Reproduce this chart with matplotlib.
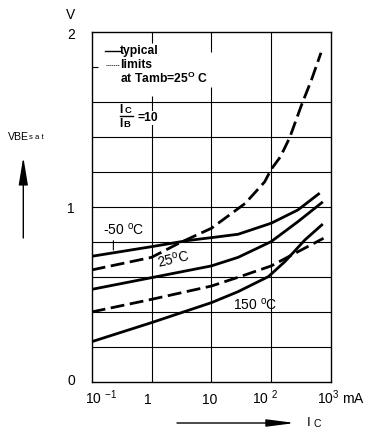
import matplotlib
matplotlib.use("Agg")
import matplotlib.pyplot as plt

plt.rcParams['font.family'] = ['Liberation Sans', 'DejaVu Sans']
plt.rcParams['mathtext.fontset'] = 'custom'
plt.rcParams['mathtext.rm'] = 'Liberation Sans'
plt.rcParams['mathtext.bf'] = 'Liberation Sans:bold'

# collector current (mA) and VBEsat (V)
ic_m50 = [0.1, 1, 4, 12, 28, 100, 280, 620]
vbe_m50 = [0.72, 0.775, 0.81, 0.83, 0.846, 0.909, 0.985, 1.076]

ic_25 = [0.1, 1, 10, 28, 100, 280, 700]
vbe_25 = [0.531, 0.598, 0.665, 0.714, 0.804, 0.918, 1.026]

ic_150 = [0.1, 1, 10, 28, 90, 170, 365, 700]
vbe_150 = [0.232, 0.341, 0.455, 0.518, 0.604, 0.69, 0.813, 0.899]

ic_upper = [0.1, 1, 3, 10, 37, 78, 100, 143, 205, 322, 470, 680]
vbe_upper = [0.642, 0.714, 0.798, 0.88, 1.023, 1.146, 1.217, 1.289, 1.40, 1.585, 1.727, 1.883]

ic_lower = [0.1, 1, 10, 28, 100, 280, 750]
vbe_lower = [0.402, 0.474, 0.55, 0.60, 0.665, 0.746, 0.823]

xtick_vals = [0.1, 1, 10, 100, 1000]
xtick_labels = ['10 $^{\\mathregular{-1}}$', '1', '10', '10 $^{2}$', '10$^{3}$ mA']
ytick_vals = [0, 1, 2]

fig = plt.figure(figsize=(3.72, 4.38), dpi=100)
ax = fig.add_axes([91.7 / 372, 1 - 382.3 / 438, 239.3 / 372, 350 / 438])
ax.set_xscale('log')
ax.set_xlim(0.1, 1000)
ax.set_ylim(0, 2)
ax.set_xticks([])
ax.set_yticks([])
ax.minorticks_off()
for s in ax.spines.values():
    s.set_linewidth(1.0)

# grid, with gaps where the notes sit
gk = dict(color='black', lw=0.8, zorder=1)
for v in [0.2, 0.4, 0.6, 0.8, 1.0, 1.2, 1.4, 1.6]:
    ax.hlines(v, 0.1, 1000, **gk)
ax.hlines(1.8, 0.1, 0.127, **gk)
ax.vlines(1, 0, 1.636, **gk)
ax.vlines(1, 1.94, 2, **gk)
ax.vlines(10, 0, 1.69, **gk)
ax.vlines(10, 1.89, 2, **gk)
ax.vlines(100, 0, 2, **gk)

lw = 2.0
ax.plot(ic_m50, vbe_m50, color='black', lw=lw, zorder=3)
ax.plot(ic_25, vbe_25, color='black', lw=lw, zorder=3)
ax.plot(ic_150, vbe_150, color='black', lw=lw, zorder=3)
ax.plot(ic_upper, vbe_upper, color='black', lw=lw, dashes=(5, 2), zorder=3)
ax.plot(ic_lower, vbe_lower, color='black', lw=lw, dashes=(5, 2), zorder=3)

# curve labels
ax.annotate('-50 $^{\\mathregular{o}}$C', xy=(0.23, 0.756), xytext=(0.155, 0.842),
            fontsize=10, ha='left', va='baseline',
            arrowprops=dict(arrowstyle='-', lw=0.8, color='black',
                            shrinkA=0, shrinkB=0, relpos=(0.25, 0)))
ax.text(1.29, 0.653, '25$^{\\mathregular{o}}$C', fontsize=10, rotation=13,
        rotation_mode='anchor', ha='left', va='baseline')
ax.text(23.3, 0.413, '150 $^{\\mathregular{o}}$C', fontsize=10, ha='left', va='baseline')

# notes in the upper left corner
tr = ax.transAxes
ax.plot([0.054, 0.117], [0.946, 0.946], transform=tr, color='black', lw=1.0)
ax.plot([0.060, 0.114], [0.907, 0.907], transform=tr, color='black', lw=0.7,
        linestyle=(0, (1, 1)))
nk = dict(transform=tr, fontsize=8.7, fontweight='bold', ha='left', va='center')
ax.text(0.117, 0.946, 'typical', **nk)
ax.text(0.117, 0.907, 'limits', **nk)
ax.text(0.117, 0.869, 'at Tamb=25$^{\\mathregular{O}}$ C', **nk)
ax.text(0.117, 0.779, 'I', **nk)
ax.text(0.136, 0.777, 'C', transform=tr, fontsize=6.8, fontweight='bold',
        ha='left', va='center')
ax.plot([0.117, 0.173], [0.760, 0.760], transform=tr, color='black', lw=1.0)
ax.text(0.117, 0.738, 'I', **nk)
ax.text(0.134, 0.736, 'B', transform=tr, fontsize=6.8, fontweight='bold',
        ha='left', va='center')
ax.text(0.193, 0.755, '=10', bbox=dict(facecolor='white', edgecolor='none', pad=1), **nk)

# axis tick labels
dx = [(-4.8, 'left'), (-2.7, 'center'), (-1.2, 'center'), (-13.9, 'left'), (-10.2, 'left')]
for x, lab, (off, ha) in zip(xtick_vals, xtick_labels, dx):
    ax.annotate(lab, xy=(x, 0), xycoords=('data', 'axes fraction'),
                xytext=(off, -15.3), textcoords='offset points',
                fontsize=10, ha=ha, va='baseline')
yoff = {0: 0.6, 1: -1.4, 2: -2.0}
for v in ytick_vals:
    ax.annotate(str(v), xy=(0.1, v), xytext=(-14.9, yoff[v]), textcoords='offset points',
                fontsize=10, ha='center', va='center')
ax.annotate('V', xy=(0.1, 2), xytext=(-14.9, 12.2), textcoords='offset points',
            fontsize=10, ha='center', va='center')

# axis quantity labels with arrows
fig.text(8 / 372, 1 - 137 / 438, 'VBE', fontsize=7.6, ha='left', va='center')
fig.text(29 / 372, 1 - 138 / 438, 's a t', fontsize=5.6, ha='left', va='center')
ax.annotate('', xy=(23.3 / 372, 1 - 157 / 438), xytext=(23.3 / 372, 1 - 238 / 438),
            xycoords='figure fraction', textcoords='figure fraction',
            arrowprops=dict(arrowstyle='-|>,head_length=1.7,head_width=0.28',
                            mutation_scale=10, lw=1.0, color='black',
                            shrinkA=0, shrinkB=0))
ax.annotate('', xy=(295 / 372, 1 - 423 / 438), xytext=(177 / 372, 1 - 423 / 438),
            xycoords='figure fraction', textcoords='figure fraction',
            arrowprops=dict(arrowstyle='-|>,head_length=1.7,head_width=0.22',
                            mutation_scale=10, lw=1.0, color='black',
                            shrinkA=0, shrinkB=0))
fig.text(307 / 372, 1 - 423 / 438, 'I', fontsize=9.5, ha='left', va='center')
fig.text(313 / 372, 1 - 424 / 438, 'C', fontsize=7.5, ha='left', va='center')

fig.savefig('out.png', dpi=100)
